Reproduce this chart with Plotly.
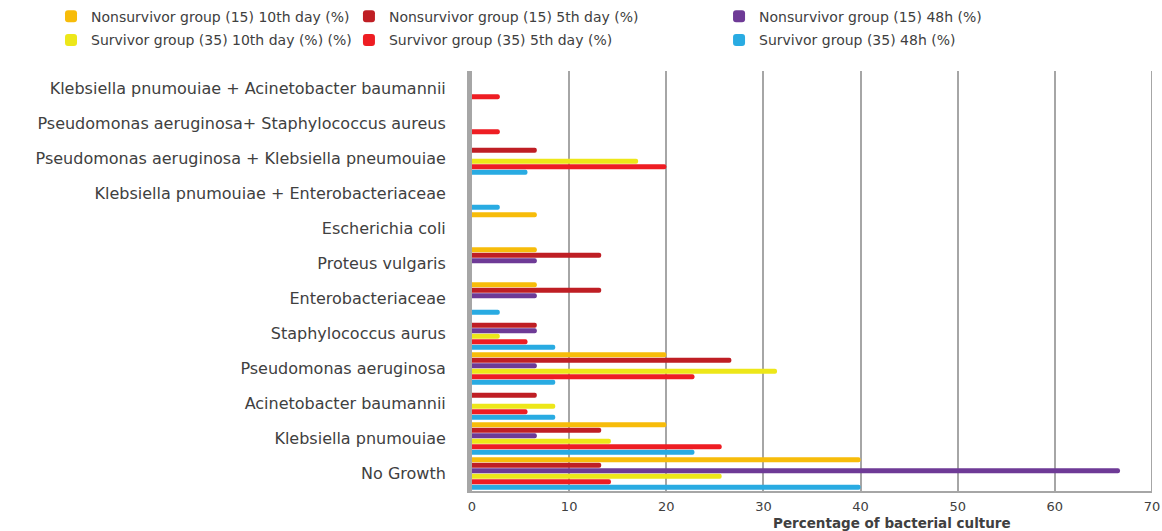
import plotly.graph_objects as go

# Categories, top to bottom as shown in the chart
categories = [
    "Klebsiella pnumouiae + Acinetobacter baumannii",
    "Pseudomonas aeruginosa+ Staphylococcus aureus",
    "Pseudomonas aeruginosa + Klebsiella pneumouiae",
    "Klebsiella pnumouiae + Enterobacteriaceae",
    "Escherichia coli",
    "Proteus vulgaris",
    "Enterobacteriaceae",
    "Staphylococcus aurus",
    "Pseudomonas aeruginosa",
    "Acinetobacter baumannii",
    "Klebsiella pnumouiae",
    "No Growth",
]

nonsurv_10th = [0, 0, 0, 0, 6.67, 6.67, 6.67, 0, 20, 0, 20, 40]
nonsurv_5th = [0, 0, 6.67, 0, 0, 13.3, 13.3, 6.67, 26.7, 6.67, 13.3, 13.3]
nonsurv_48h = [0, 0, 0, 0, 0, 6.67, 6.67, 6.67, 6.67, 0, 6.67, 66.7]
surv_10th = [0, 0, 17.1, 0, 0, 0, 0, 2.86, 31.4, 8.57, 14.3, 25.7]
surv_5th = [2.86, 2.86, 20, 0, 0, 0, 0, 5.71, 22.9, 5.71, 25.7, 14.3]
surv_48h = [0, 0, 5.71, 2.86, 0, 0, 2.86, 8.57, 8.57, 8.57, 22.9, 40]

x_ticks = [0, 10, 20, 30, 40, 50, 60, 70]

# (name, values, color, legend id) in drawing order: first trace sits lowest in each group
series = [
    ("Survivor group (35) 48h (%)", surv_48h, "#29ABE2", "legend6"),
    ("Survivor group (35) 5th day (%)", surv_5th, "#EE1D23", "legend5"),
    ("Survivor group (35) 10th day (%) (%)", surv_10th, "#EDE719", "legend4"),
    ("Nonsurvivor group (15) 48h (%)", nonsurv_48h, "#6E3A96", "legend3"),
    ("Nonsurvivor group (15) 5th day (%)", nonsurv_5th, "#BF1E24", "legend2"),
    ("Nonsurvivor group (15) 10th day (%)", nonsurv_10th, "#F7BC0A", "legend"),
]

fig = go.Figure()
for name, vals, color, leg in series:
    fig.add_trace(go.Bar(
        y=categories, x=vals, name=name, orientation="h", legend=leg,
        showlegend=True,
        marker=dict(color=color, cornerradius=3, line=dict(width=0)),
    ))

font_family = "DejaVu Sans"


def legend_at(x, y):
    return dict(
        xref="container", yref="container", x=x, y=y,
        xanchor="left", yanchor="top", itemwidth=30,
        font=dict(family=font_family, size=14, color="#404040"),
        bgcolor="rgba(0,0,0,0)",
    )


row1, row2 = 0.999, 0.954
fig.update_layout(
    width=1162, height=531,
    showlegend=True,
    margin=dict(l=472, r=10, t=71, b=40, autoexpand=False),
    paper_bgcolor="white", plot_bgcolor="white",
    barmode="group", bargap=0.06, bargroupgap=0.06,
    font=dict(family=font_family, color="#404040"),
    legend=legend_at(0.0439, row1),
    legend2=legend_at(0.3003, row1),
    legend3=legend_at(0.6188, row1),
    legend4=legend_at(0.0439, row2),
    legend5=legend_at(0.3003, row2),
    legend6=legend_at(0.6188, row2),
    xaxis=dict(
        range=[0, 70], tickvals=x_ticks, ticktext=[str(t) for t in x_ticks],
        showgrid=True, gridcolor="#A6A6A6", gridwidth=2,
        showline=True, linecolor="#A6A6A6", linewidth=2, mirror=False,
        zeroline=False, ticks="", tickfont=dict(size=13, color="#404040"),
        ticklabelstandoff=2,
    ),
    yaxis=dict(
        categoryorder="array", categoryarray=categories[::-1],
        showgrid=False, showline=True, linecolor="#A6A6A6", linewidth=5,
        ticks="", tickfont=dict(size=16, color="#404040"),
        ticklabelstandoff=18, automargin=False,
    ),
    shapes=[dict(type="line", xref="x", yref="paper", x0=70, x1=70, y0=0, y1=1,
                 line=dict(color="#A6A6A6", width=2))],
    annotations=[dict(
        text="<b>Percentage of bacterial culture</b>", xref="paper", yref="paper",
        x=0.618, y=-0.052, xanchor="center", yanchor="top", showarrow=False,
        font=dict(family=font_family, size=13.5, color="#404040"),
    )],
)

fig.write_html("out.html")
